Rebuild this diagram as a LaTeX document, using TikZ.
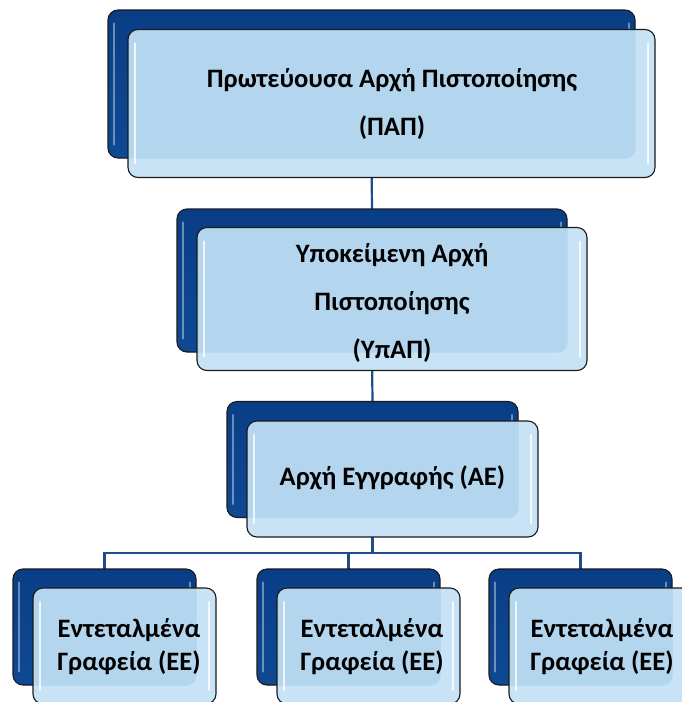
\documentclass[tikz,border=0pt]{standalone}
\usepackage{fontspec}
\setmainfont{Carlito}
\definecolor{navytop}{HTML}{093E86}
\definecolor{navybot}{HTML}{0F4994}
\definecolor{frontlight}{HTML}{C8E3F6}
\definecolor{frontover}{HTML}{B3D5EE}
\definecolor{linkc}{HTML}{1E4C8C}
\definecolor{edgec}{HTML}{1A1A1A}
\tikzset{
  backbox/.style={draw=edgec, line width=1.1pt, rounded corners=10pt, top color=navytop, bottom color=navybot, inner sep=0pt},
  frontbox/.style={draw=edgec, line width=1.1pt, rounded corners=10pt, fill=frontlight, inner sep=0pt},
  txt/.style={font=\bfseries\fontsize{26.6}{48}\selectfont, align=center, text=black},
  txtsmall/.style={font=\bfseries\fontsize{26.6}{33}\selectfont, align=center, text=black},
  link/.style={draw=linkc, line width=2.2pt},
  glossb/.style={draw=white, line width=2pt, line cap=round, opacity=0.4},
  glossf/.style={draw=white, line width=2.5pt, line cap=round, opacity=0.8},
}
% #1 back name, #2 front name, #3 back center, #4 front center, #5 width, #6 height
\newcommand{\dblbox}[6]{%
  \node[backbox, minimum width=#5pt, minimum height=#6pt] (#1) at #3 {};
  \draw[glossb] ([xshift=7pt,yshift=-14pt]#1.north west) -- ([xshift=7pt,yshift=14pt]#1.south west);
  \draw[glossb] ([xshift=-7pt,yshift=-14pt]#1.north east) -- ([xshift=-7pt,yshift=14pt]#1.south east);
  \node[frontbox, minimum width=#5pt, minimum height=#6pt,
    path picture={\fill[frontover, rounded corners=10pt] (#1.north west) rectangle (#1.south east);
      \draw[draw=frontlight, line width=1.5pt] (#1.south) -- ([yshift=-25pt]#1.south);
      \draw[glossf] ([xshift=7pt,yshift=-14pt]path picture bounding box.north west) -- ([xshift=7pt,yshift=14pt]path picture bounding box.south west);
      \draw[glossf] ([xshift=-7pt,yshift=-14pt]path picture bounding box.north east) -- ([xshift=-7pt,yshift=14pt]path picture bounding box.south east);
    }] (#2) at #4 {};
}
\begin{document}
\begin{tikzpicture}[x=1pt,y=-1pt]
\useasboundingbox (0,0) rectangle (681,702);
% connectors
\coordinate (bus) at (372.5,553);
\node[inner sep=0pt, minimum width=527pt, minimum height=148pt] (pb1) at (371.5,84) {};
\node[inner sep=0pt, minimum width=390pt, minimum height=143pt] (pb2) at (372,280.5) {};
\node[inner sep=0pt, minimum width=291pt, minimum height=115pt] (pb3) at (372.5,459.5) {};
\node[inner sep=0pt, minimum width=183pt, minimum height=116pt] (pc1) at (104.5,627) {};
\node[inner sep=0pt, minimum width=183pt, minimum height=116pt] (pc2) at (348.5,627) {};
\node[inner sep=0pt, minimum width=183pt, minimum height=116pt] (pc3) at (580.5,627) {};
\draw[link] (pb1.south) -- (pb2.north);
\draw[link] (pb2.south) -- (pb3.north);
\draw[link] (pb3.south) -- (bus);
\draw[link] (pc1.north) |- (bus) -| (pc3.north);
\draw[link] (pc2.north) |- (bus);
% boxes
\dblbox{b1}{f1}{(371.5,84)}{(391.5,103.5)}{527}{148}
\node[txt] (t1) at (392,104) {Πρωτεύουσα Αρχή Πιστοποίησης\\(ΠΑΠ)};
\dblbox{b2}{f2}{(372,280.5)}{(392,299)}{390}{143}
\node[txt] (t2) at (392,303) {Υποκείμενη Αρχή\\Πιστοποίησης\\(ΥπΑΠ)};
\dblbox{b3}{f3}{(372.5,459.5)}{(392.5,479)}{291}{116}
\node[txt] (t3) at (392.5,478) {Αρχή Εγγραφής (ΑΕ)};
\dblbox{c1}{g1}{(104.5,627)}{(124.5,646)}{183}{116}
\node[txtsmall] (u1) at (129,646.5) {Εντεταλμένα\\Γραφεία (ΕΕ)};
\dblbox{c2}{g2}{(348.5,627)}{(368.5,646)}{183}{116}
\node[txtsmall] (u2) at (372,646.5) {Εντεταλμένα\\Γραφεία (ΕΕ)};
\dblbox{c3}{g3}{(580.5,627)}{(600.5,646)}{183}{116}
\node[txtsmall] (u3) at (602,646.5) {Εντεταλμένα\\Γραφεία (ΕΕ)};
\end{tikzpicture}
\end{document}
